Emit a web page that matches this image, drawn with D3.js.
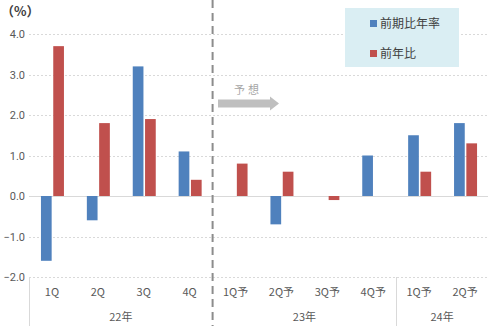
<!DOCTYPE html>
<html><head><meta charset="utf-8">
<script src="https://cdn.jsdelivr.net/npm/d3@7"></script>
<style>
html,body{margin:0;padding:0;background:#fff;}
svg{display:block;font-family:"Noto Sans CJK JP","Noto Sans",sans-serif;}
</style></head>
<body><svg id="c" width="488" height="326"></svg>
<script>
const categories = ["1Q","2Q","3Q","4Q","1Q予","2Q予","3Q予","4Q予","1Q予","2Q予"];
const groups = [{label:"22年", start:0, end:4},{label:"23年", start:4, end:8},{label:"24年", start:8, end:10}];
const seriesNames = ["前期比年率","前年比"];
const qoqAnnual = [-1.6,-0.6,3.2,1.1,null,-0.7,null,1.0,1.5,1.8];
const yoy = [3.7,1.8,1.9,0.4,0.8,0.6,-0.1,null,0.6,1.3];
const yTicks = [-2,-1,0,1,2,3,4];
const colors = ["#4F81BD","#C0504D"];

const svg = d3.select("#c");
const x0 = 29, x1 = 488;
const x = d3.scaleBand().domain(d3.range(categories.length)).range([x0,x1]).padding(0);
const y = d3.scaleLinear().domain([-2,4]).range([277,34]);
const sub = d3.scaleBand().domain([0,1]).range([-11,12]).paddingInner(0.13);

// gridlines
svg.append("g").selectAll("line").data(yTicks).join("line")
  .attr("x1",x0).attr("x2",x1)
  .attr("y1",d=>Math.round(y(d))+0.5).attr("y2",d=>Math.round(y(d))+0.5)
  .attr("stroke","#d9d9d9")
  .attr("stroke-width",1)
  .attr("stroke-dasharray",d=>d===0?null:"2,2");

// y axis labels
const yAxis = d3.axisLeft(y).tickValues(yTicks).tickFormat(d3.format(".1f")).tickSize(0).tickPadding(0);
const ya = svg.append("g").attr("transform","translate(25,0)").call(yAxis);
ya.select(".domain").remove();
ya.selectAll("text").attr("fill","#595959").style("font-size","11px").style("font-family","Roboto, 'Noto Sans', sans-serif");

// bars
const series = [qoqAnnual, yoy];
series.forEach((vals,si)=>{
  svg.append("g").selectAll("rect").data(vals.map((v,i)=>({v,i})).filter(d=>d.v!==null)).join("rect")
    .attr("x",d=>x(d.i)+x.bandwidth()/2+sub(si))
    .attr("width",sub.bandwidth())
    .attr("y",d=>Math.min(y(d.v),y(0)))
    .attr("height",d=>Math.abs(y(d.v)-y(0)))
    .attr("fill",colors[si]);
});

// category labels
svg.append("g").selectAll("text").data(categories).join("text")
  .attr("x",(d,i)=>x(i)+x.bandwidth()/2).attr("y",296)
  .attr("text-anchor","middle").attr("fill","#595959").style("font-size","11px")
  .text(d=>d);

// group separators and labels
const seps = [0,8,10];
svg.append("g").selectAll("line").data(seps).join("line")
  .attr("x1",d=>Math.round(d===categories.length?x1-0.5:x(d))+0.5)
  .attr("x2",d=>Math.round(d===categories.length?x1-0.5:x(d))+0.5)
  .attr("y1",277).attr("y2",326).attr("stroke","#d9d9d9");
svg.append("g").selectAll("text").data(groups).join("text")
  .attr("x",d=>(x(d.start)+(d.end>=categories.length?x1:x(d.end)))/2).attr("y",321)
  .attr("text-anchor","middle").attr("fill","#595959").style("font-size","11px")
  .text(d=>d.label);

// dashed divider
svg.append("line").attr("x1",x(4)).attr("x2",x(4)).attr("y1",0).attr("y2",326)
  .attr("stroke","#8c8c8c").attr("stroke-width",2).attr("stroke-dasharray","8,5");

// unit label
svg.append("text").attr("x",1).attr("y",16).attr("fill","#404040").style("font-size","13px").style("font-weight","bold").text("（%）");

// forecast arrow
svg.append("path").attr("d","M218,99.5 L270,99.5 L270,96.5 L279,103.5 L270,110.5 L270,107.5 L218,107.5 Z").attr("fill","#bfbfbf");
svg.append("text").attr("x",234).attr("y",94).attr("fill","#a6a6a6").style("font-size","11px").style("letter-spacing","3px").text("予想");

// legend
const lg = svg.append("g");
lg.append("rect").attr("x",345).attr("y",8).attr("width",114).attr("height",59).attr("fill","#DAEEF3");
seriesNames.forEach((n,i)=>{
  const yy = 23 + i*30;
  lg.append("rect").attr("x",370).attr("y",yy-3).attr("width",7).attr("height",7).attr("fill",colors[i]);
  lg.append("text").attr("x",380).attr("y",yy+5).attr("fill","#404040").style("font-size","12px").text(n);
});
</script></body></html>
